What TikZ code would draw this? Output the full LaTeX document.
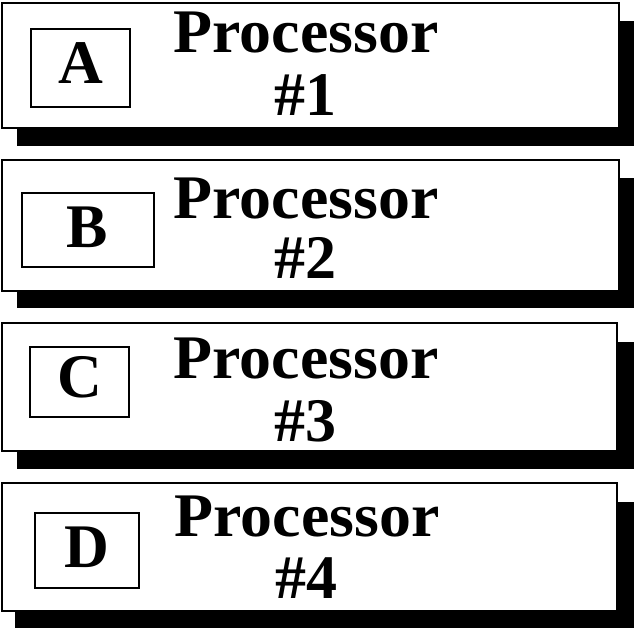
\documentclass[tikz,border=0pt]{standalone}
\usepackage{fontspec}
\setmainfont{Liberation Serif}
\begin{document}
\begin{tikzpicture}[x=1pt,y=-1pt,
  frame/.style={draw=black,line width=2pt,fill=white},
  shade/.style={fill=black,draw=none},
  tagbox/.style={draw=black,line width=1.8pt,fill=white},
  big/.style={font=\bfseries\fontsize{62}{62}\selectfont,inner sep=0pt,anchor=base}]
\useasboundingbox (0,0) rectangle (634,630);

% processor 1
\fill[shade] (17,21) rectangle (634,146);
\draw[frame] (2,3) rectangle (619,128);
\draw[tagbox] (31,29) rectangle (130,107);
\node[big] (la) at (80.5,83) {A};
\node[big] (p1) at (306,52) {\scalebox{1.03}[1]{Processor}};
\node[big] (n1) at (305,115) {\#1};

% processor 2
\fill[shade] (17,178) rectangle (634,308);
\draw[frame] (2,160) rectangle (619,291);
\draw[tagbox] (22,193) rectangle (154,267);
\node[big] (lb) at (87,247) {B};
\node[big] (p2) at (306,218) {\scalebox{1.03}[1]{Processor}};
\node[big] (n2) at (305,278) {\#2};

% processor 3
\fill[shade] (17,342) rectangle (634,469);
\draw[frame] (2,323) rectangle (617,451);
\draw[tagbox] (30,347) rectangle (129,417);
\node[big] (lc) at (80,397) {C};
\node[big] (p3) at (306,378) {\scalebox{1.03}[1]{Processor}};
\node[big] (n3) at (305,441) {\#3};

% processor 4
\fill[shade] (15,502) rectangle (634,628);
\draw[frame] (2,483) rectangle (617,611);
\draw[tagbox] (35,513) rectangle (139,588);
\node[big] (ld) at (87,567) {D};
\node[big] (p4) at (307,536) {\scalebox{1.03}[1]{Processor}};
\node[big] (n4) at (306,598) {\#4};
\end{tikzpicture}
\end{document}
